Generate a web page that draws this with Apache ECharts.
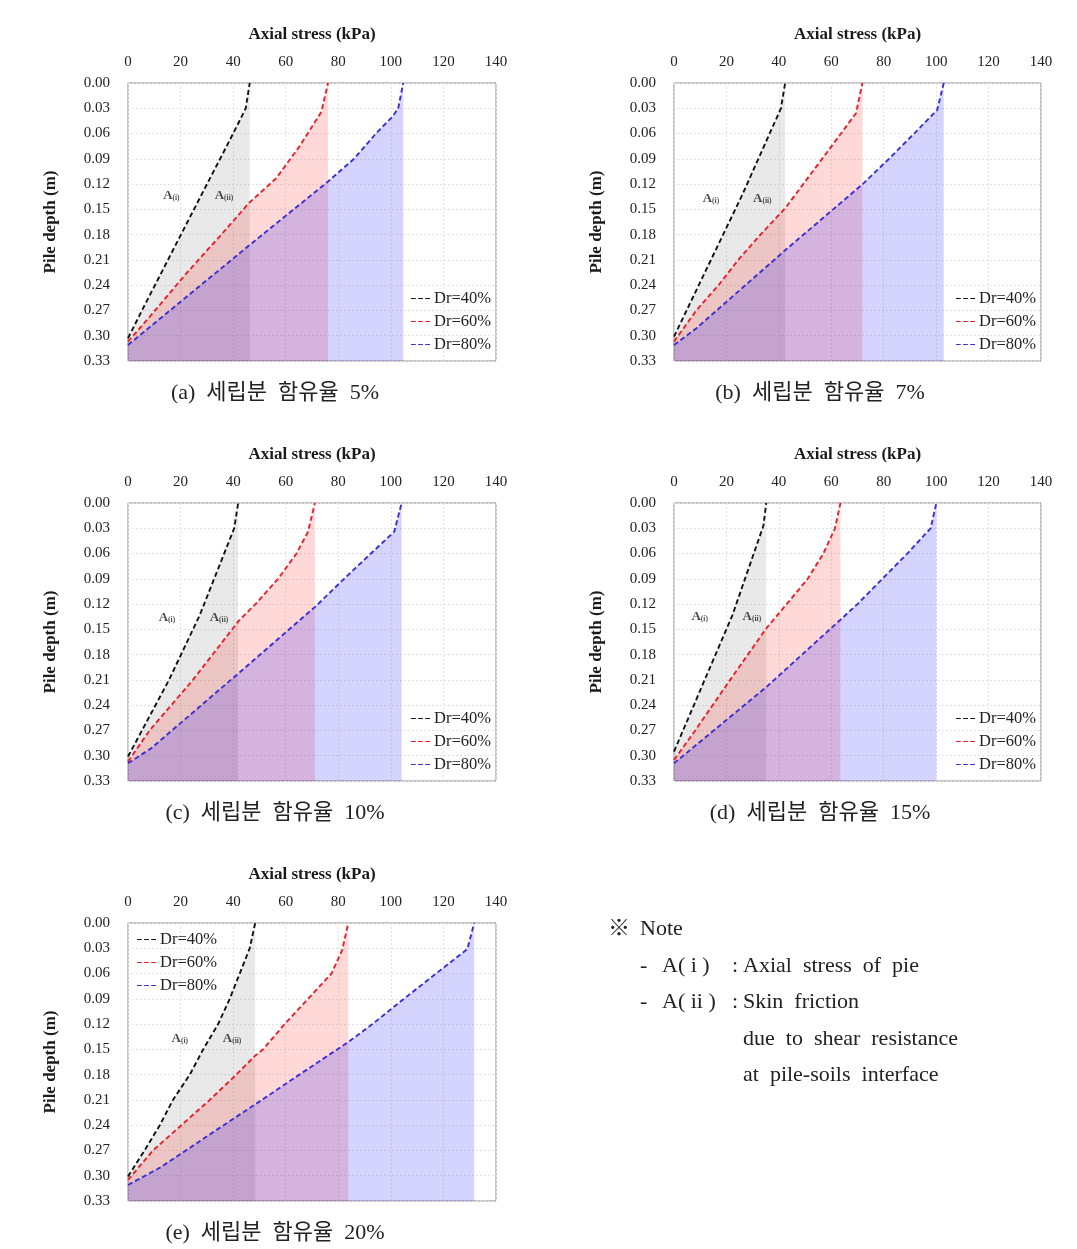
<!DOCTYPE html>
<html><head><meta charset="utf-8">
<script src="https://cdn.jsdelivr.net/npm/echarts@6/dist/echarts.min.js"></script>
<style>html,body{margin:0;padding:0;background:#fff}#c{width:1077px;height:1249px}</style>
</head><body><div id="c"></div>
<script>
// ---------- data (axial stress kPa, pile depth m) ----------
const seriesNames = ['Dr=40%', 'Dr=60%', 'Dr=80%'];
const xAxisName = 'Axial stress (kPa)';
const yAxisName = 'Pile depth (m)';
const captions = ['(a)  세립분  함유율  5%', '(b)  세립분  함유율  7%', '(c)  세립분  함유율  10%', '(d)  세립분  함유율  15%', '(e)  세립분  함유율  20%'];

// (a) fines 5%
const a_dr40 = [[0,0.303],[5.3,0.27],[15.2,0.21],[27.9,0.133],[40.0,0.06],[44.8,0.03],[46.3,0]];
const a_dr60 = [[0,0.307],[9.5,0.273],[22.2,0.226],[34.9,0.182],[46.0,0.1425],[56.4,0.113],[65.3,0.075],[73.6,0.034],[76.1,0]];
const a_dr80 = [[0,0.311],[46.0,0.193],[76.1,0.117],[86.0,0.09],[94.3,0.06],[100.6,0.04],[102.8,0.03],[104.7,0]];
// (b) fines 7%
const b_dr40 = [[0,0.301],[4.8,0.27],[26.0,0.133],[40.8,0.03],[42.4,0]];
const b_dr60 = [[0,0.307],[8.5,0.27],[17.0,0.24],[24.5,0.21],[33.0,0.18],[42.6,0.148],[49.3,0.12],[56.5,0.09],[63.7,0.06],[69.4,0.036],[71.9,0]];
const b_dr80 = [[0,0.311],[8.6,0.291],[42.6,0.198],[72.0,0.12],[82.0,0.09],[91.6,0.06],[100.4,0.032],[102.9,0]];
// (c) fines 10%
const c_dr40 = [[0,0.301],[15.6,0.21],[27.3,0.133],[40.4,0.03],[41.9,0]];
const c_dr60 = [[0,0.307],[8.2,0.27],[24.7,0.21],[42.1,0.14],[48.5,0.12],[57.1,0.09],[64.1,0.06],[68.5,0.034],[71.1,0]];
const c_dr80 = [[0,0.309],[8.9,0.291],[42.1,0.202],[71.3,0.123],[82.2,0.09],[92.4,0.06],[101.3,0.034],[104.1,0]];
// (d) fines 15%
const d_dr40 = [[0,0.295],[22.3,0.133],[34.1,0.027],[35.2,0]];
const d_dr60 = [[0,0.305],[8.1,0.27],[21.4,0.21],[35.4,0.148],[43.0,0.12],[51.0,0.09],[57.0,0.06],[61.4,0.03],[63.5,0]];
const d_dr80 = [[0,0.309],[35.4,0.218],[63.5,0.1385],[70.0,0.12],[79.5,0.09],[89.0,0.06],[97.9,0.03],[100.1,0]];
// (e) fines 20%
const e_dr40 = [[0,0.301],[6.3,0.27],[12.1,0.24],[17.1,0.21],[23.5,0.18],[28.6,0.15],[34.3,0.12],[38.7,0.09],[42.5,0.06],[46.3,0.03],[48.4,0]];
const e_dr60 = [[0,0.305],[9.5,0.27],[20.3,0.24],[31.1,0.21],[41.2,0.18],[48.2,0.158],[51.4,0.15],[59.6,0.12],[68.5,0.09],[77.4,0.06],[81.5,0.032],[83.8,0]];
const e_dr80 = [[0,0.311],[12.4,0.29],[22.0,0.27],[36.4,0.24],[48.2,0.2157],[65.2,0.18],[84.2,0.1405],[93.0,0.12],[105.0,0.09],[117.2,0.06],[129.1,0.031],[131.7,0]];

// area annotations A(i), A(ii) : [stress, depth, subscript]
const a_labels = [[16.5,0.134,'i'],[36.5,0.134,'ii']];
const b_labels = [[14.1,0.1375,'i'],[33.7,0.1375,'ii']];
const c_labels = [[14.8,0.1365,'i'],[34.6,0.1365,'ii']];
const d_labels = [[9.8,0.135,'i'],[29.7,0.135,'ii']];
const e_labels = [[19.7,0.137,'i'],[39.6,0.137,'ii']];

// ---------- layout ----------
const serif = "'Liberation Serif','Times New Roman',serif";
const panels = [
  {data:[a_dr40,a_dr60,a_dr80], labels:a_labels, left:128, top:83, w:368, lg:{left:411, top:290}, cap:[275,393]},
  {data:[b_dr40,b_dr60,b_dr80], labels:b_labels, left:674, top:83, w:367, lg:{left:956, top:290}, cap:[820,393]},
  {data:[c_dr40,c_dr60,c_dr80], labels:c_labels, left:128, top:503, w:368, lg:{left:411, top:710}, cap:[275,813]},
  {data:[d_dr40,d_dr60,d_dr80], labels:d_labels, left:674, top:503, w:367, lg:{left:956, top:710}, cap:[820,813]},
  {data:[e_dr40,e_dr60,e_dr80], labels:e_labels, left:128, top:923, w:368, lg:{left:137, top:931}, cap:[275,1233]}
];
const lineColors = ['#111111','#e8202a','#3a2fd6'];
const areaColors = ['rgba(0,0,0,0.12)','rgba(255,0,0,0.22)','rgba(0,0,255,0.24)'];
const dashIcon = 'path://M0,0H5V1H0Z M7.5,0H12.5V1H7.5Z M15,0H20V1H15Z';

const grids = [], xAxes = [], yAxes = [], series = [], legends = [], graphics = [];
panels.forEach((p, i) => {
  grids.push({left:p.left, top:p.top, width:p.w, height:278, show:true, borderColor:'#8c8c8c', borderWidth:1, backgroundColor:'transparent', containLabel:false, outerBoundsMode:'none'});
  xAxes.push({gridIndex:i, type:'value', position:'top', min:0, max:140, interval:20,
    name:xAxisName, nameLocation:'middle', nameGap:40,
    nameTextStyle:{fontFamily:serif, fontWeight:'bold', fontSize:17, color:'#1a1a1a'},
    axisLine:{show:false}, axisTick:{show:false},
    axisLabel:{fontFamily:serif, fontSize:15, color:'#222', margin:13},
    splitLine:{show:true, lineStyle:{color:'#e3e3e3', width:1, type:[2,2]}}});
  yAxes.push({gridIndex:i, type:'value', inverse:true, min:0, max:0.33, interval:0.03,
    name:yAxisName, nameLocation:'middle', nameGap:69,
    nameTextStyle:{fontFamily:serif, fontWeight:'bold', fontSize:17, color:'#1a1a1a'},
    axisLine:{show:false}, axisTick:{show:false},
    axisLabel:{fontFamily:serif, fontSize:15, color:'#222', margin:18, formatter:v => v.toFixed(2)},
    splitLine:{show:true, lineStyle:{color:'#e3e3e3', width:1, type:[2,2]}}});
  p.data.forEach((d, k) => {
    series.push({type:'line', name:seriesNames[k], xAxisIndex:i, yAxisIndex:i, data:d,
      symbol:'none', showSymbol:false, silent:true, animation:false, z:2+k,
      lineStyle:{color:lineColors[k], width:1.9, type:[5,3]},
      itemStyle:{color:lineColors[k]},
      areaStyle:{color:areaColors[k], origin:'end'}});
  });
  series.push({type:'scatter', name:'ann'+i, xAxisIndex:i, yAxisIndex:i, data:p.labels,
    symbolSize:0, silent:true, animation:false, z:10,
    label:{show:true, position:'inside', formatter: q => '{a|A}{s|(' + q.data[2] + ')}',
      rich:{a:{fontFamily:serif, fontWeight:'bold', fontSize:13, color:'#222'},
            s:{fontFamily:serif, fontWeight:'bold', fontSize:7.5, color:'#222', padding:[5,0,0,0]}}}});
  legends.push({orient:'vertical', left:p.lg.left, top:p.lg.top,
    data:seriesNames.map((n, k) => ({name:n, icon:dashIcon, itemStyle:{color:lineColors[k], borderWidth:0}})),
    itemWidth:19, itemHeight:3, itemGap:6, padding:0, selectedMode:false,
    textStyle:{fontFamily:serif, fontSize:16.5, color:'#222', lineHeight:17, padding:[0,0,0,-1]}});
  graphics.push({type:'text', x:p.cap[0], y:p.cap[1],
    style:{text:captions[i], x:0, y:0, align:'center', verticalAlign:'middle',
      font:"22px 'Liberation Serif','Noto Sans CJK KR'", fill:'#222'}});
});

// Note block
const noteFont = "22px 'Liberation Serif','Noto Sans CJK KR'";
const noteLines = [
  ['※', 608, 929], ['Note', 640, 929],
  ['-', 640, 966], ['A( i )', 662, 966], [':', 732, 966], ['Axial  stress  of  pie', 743, 966],
  ['-', 640, 1002], ['A( ii )', 662, 1002], [':', 732, 1002], ['Skin  friction', 743, 1002],
  ['due  to  shear  resistance', 743, 1039],
  ['at  pile-soils  interface', 743, 1075]
];
noteLines.forEach(t => graphics.push({type:'text', x:t[1], y:t[2],
  style:{text:t[0], x:0, y:0, align:'left', verticalAlign:'middle', font:noteFont, fill:'#222'}}));

const chart = echarts.init(document.getElementById('c'), null, {renderer:'canvas'});
chart.setOption({
  animation:false,
  backgroundColor:'#ffffff',
  grid:grids, xAxis:xAxes, yAxis:yAxes, series:series, legend:legends, graphic:graphics
});
</script></body></html>
